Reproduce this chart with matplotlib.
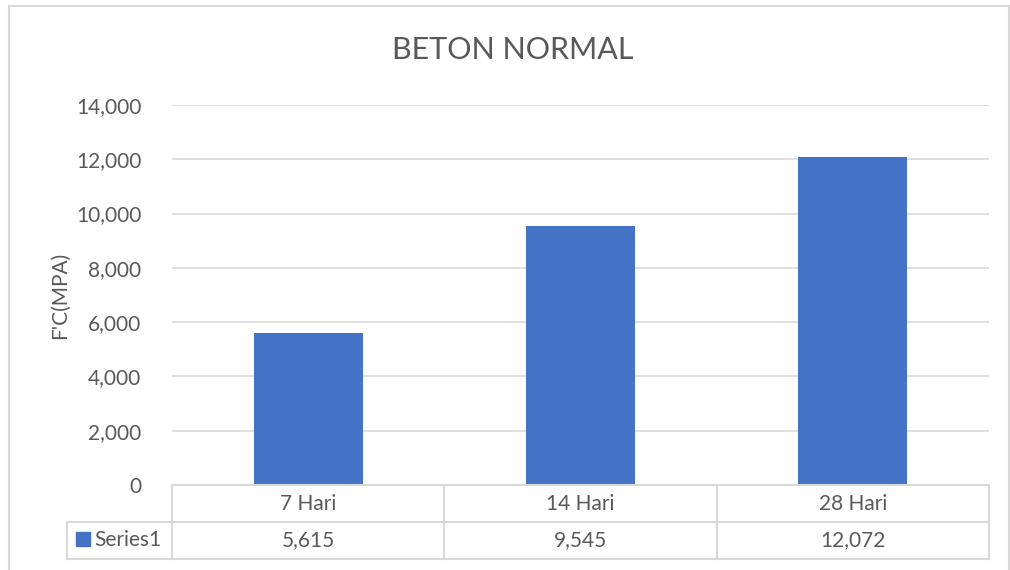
"""
BETON NORMAL: compressive strength by curing age, Excel-style column chart
with a data table underneath.
"""

import matplotlib

matplotlib.use("Agg")
import matplotlib.pyplot as plt
from matplotlib.lines import Line2D
from matplotlib.patches import Rectangle

categories = ["7 Hari", "14 Hari", "28 Hari"]
values = [5615, 9545, 12072]
series_name = "Series1"
y_ticks = [0, 2000, 4000, 6000, 8000, 10000, 12000, 14000]

W, H = 1010, 570
BAR_COLOR = "#4472c4"
TEXT = "#595959"
GRID = "#d9d9d9"

plt.rcParams["font.family"] = ["Lato", "DejaVu Sans"]


def fx(px):
    return px / W


def fy(py):
    return 1 - py / H


def main():
    fig = plt.figure(figsize=(W / 100, H / 100), dpi=100)
    # plot area in pixels: x 172..989, y 105..485
    ax = fig.add_axes([fx(172), fy(485), fx(989) - fx(172), fy(105) - fy(485)])

    x = range(len(categories))
    ax.bar(x, values, width=0.4, color=BAR_COLOR, zorder=3)
    ax.set_xlim(-0.5, len(categories) - 0.5)
    ax.set_ylim(0, 14000)
    ax.set_yticks(y_ticks)
    ax.set_yticklabels([f"{v:,}" for v in y_ticks], fontsize=15, color=TEXT)
    ax.tick_params(axis="y", length=0, pad=22)
    ax.set_xticks([])
    ax.grid(axis="y", color=GRID, linewidth=1.2, zorder=0)
    for s in ax.spines.values():
        s.set_visible(False)

    fig.text(fx(513), fy(50), "BETON NORMAL", fontsize=22, color=TEXT,
             ha="center", va="center")
    fig.text(fx(60), fy(295), "F'C(MPA)", fontsize=15, color=TEXT,
             rotation=90, ha="center", va="center")

    # data table under the plot
    def hline(x0, x1, y):
        fig.add_artist(Line2D([fx(x0), fx(x1)], [fy(y), fy(y)],
                              color=GRID, linewidth=1.5))

    def vline(x0, y0, y1):
        fig.add_artist(Line2D([fx(x0), fx(x0)], [fy(y0), fy(y1)],
                              color=GRID, linewidth=1.5))

    left, right = 172, 989
    step = (right - left) / len(categories)
    bounds = [left + i * step for i in range(len(categories) + 1)]
    r0, r1, r2 = 485, 522, 559
    hline(left, right, r0)
    hline(67, right, r1)
    hline(67, right, r2)
    vline(67, r1, r2)
    for b in bounds:
        vline(b, r0, r2)

    for i, (cat, val) in enumerate(zip(categories, values)):
        cx = (bounds[i] + bounds[i + 1]) / 2
        fig.text(fx(cx), fy((r0 + r1) / 2), cat, fontsize=15, color=TEXT,
                 ha="center", va="center")
        fig.text(fx(cx), fy((r1 + r2) / 2), f"{val:,}", fontsize=15,
                 color=TEXT, ha="center", va="center")

    fig.add_artist(Rectangle((fx(76), fy(546)), fx(14), fy(532) - fy(546),
                             color=BAR_COLOR, transform=fig.transFigure))
    fig.text(fx(94), fy((r1 + r2) / 2), series_name, fontsize=15, color=TEXT,
             ha="left", va="center")

    # chart border
    fig.add_artist(Rectangle((fx(9), fy(575)), fx(1009) - fx(9),
                             fy(6) - fy(575), fill=False, edgecolor=GRID,
                             linewidth=1.5, transform=fig.transFigure))

    fig.savefig("out.png", dpi=100)


if __name__ == "__main__":
    main()
